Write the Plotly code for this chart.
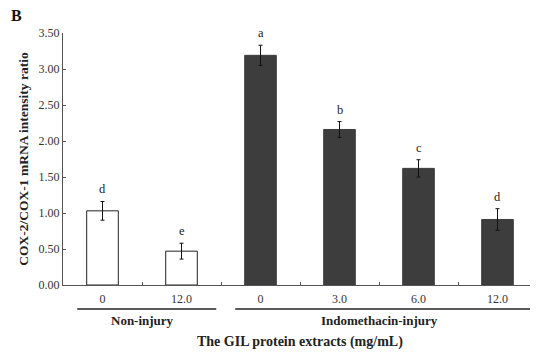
import plotly.graph_objects as go

# ---- data ----
dose_labels = ["0", "12.0", "0", "3.0", "6.0", "12.0"]
groups = ["Non-injury", "Non-injury", "Indomethacin-injury", "Indomethacin-injury",
          "Indomethacin-injury", "Indomethacin-injury"]
ratio = [1.03, 0.47, 3.19, 2.16, 1.62, 0.91]
sem = [0.13, 0.11, 0.14, 0.11, 0.12, 0.15]
letters = ["d", "e", "a", "b", "c", "d"]
group_names = ["Non-injury", "Indomethacin-injury"]

x = list(range(len(ratio)))
fill = ["white" if g == "Non-injury" else "#3d3d3d" for g in groups]
outline = ["#222222" if g == "Non-injury" else "#3d3d3d" for g in groups]

FONT = "Liberation Serif, Times New Roman, serif"

fig = go.Figure()
fig.add_trace(go.Bar(
    x=x, y=ratio, width=0.4,
    marker=dict(color=fill, line=dict(color=outline, width=1)),
    error_y=dict(type="data", array=sem, visible=True, color="#111111",
                 thickness=1, width=2),
    showlegend=False, hoverinfo="skip",
))

# significance letters
for xi, v, e, t in zip(x, ratio, sem, letters):
    fig.add_annotation(x=xi, y=v + e, text=t, showarrow=False, yanchor="middle",
                       yshift=12, font=dict(family=FONT, size=12.5, color="#222"))

# group underlines + labels
group_spans = {}
for xi, g in zip(x, groups):
    group_spans.setdefault(g, []).append(xi)
for g in group_names:
    lo, hi = min(group_spans[g]), max(group_spans[g])
    fig.add_shape(type="line", xref="x", yref="paper",
                  x0=lo - 0.32, x1=hi + 0.44, y0=-0.095, y1=-0.095,
                  line=dict(color="#222", width=1.5))
    fig.add_annotation(x=(lo + hi) / 2, xref="x", yref="paper", y=-0.139,
                       text="<b>" + g + "</b>", showarrow=False, yanchor="middle",
                       font=dict(family=FONT, size=13, color="#222"))

fig.add_annotation(x=0.5, xref="paper", y=-0.228, yref="paper",
                   text="<b>The GIL protein extracts (mg/mL)</b>", showarrow=False,
                   yanchor="middle", font=dict(family=FONT, size=14, color="#222"))

fig.add_annotation(x=-0.098, xref="paper", y=1.07, yref="paper", xanchor="center",
                   text="<b>B</b>", showarrow=False, yanchor="middle",
                   font=dict(family=FONT, size=16, color="#111"))

# the page body adds an 8px margin, so the figure is drawn 8px smaller
fig.update_layout(
    width=530, height=347,
    margin=dict(l=55, r=1, t=25, b=70, autoexpand=False),
    paper_bgcolor="white", plot_bgcolor="white",
    font=dict(family=FONT, size=12, color="#333"),
    bargap=0.6,
    xaxis=dict(
        range=[-0.5, 5.5], tickmode="array", tickvals=x, ticktext=dose_labels,
        ticks="", showline=True, linecolor="#555", linewidth=1, showgrid=False,
        zeroline=False, ticklabelstandoff=3,
        minor=dict(tickmode="array", tickvals=[i + 0.5 for i in x[:-1]],
                   ticks="inside", ticklen=3, tickcolor="#555", tickwidth=1,
                   showgrid=False),
        tickfont=dict(family=FONT, size=12, color="#333"),
    ),
    yaxis=dict(
        range=[0, 3.5], tickmode="linear", tick0=0, dtick=0.5, tickformat=".2f",
        ticks="inside", ticklen=3, tickcolor="#555", showline=True, linecolor="#555",
        linewidth=1, showgrid=False, zeroline=False, automargin=False,
        tickfont=dict(family=FONT, size=12, color="#333"),
        title=dict(text="<b>COX-2/COX-1 mRNA intensity ratio</b>", standoff=6,
                   font=dict(family=FONT, size=13.5, color="#222")),
    ),
)

fig.write_html("out.html")
